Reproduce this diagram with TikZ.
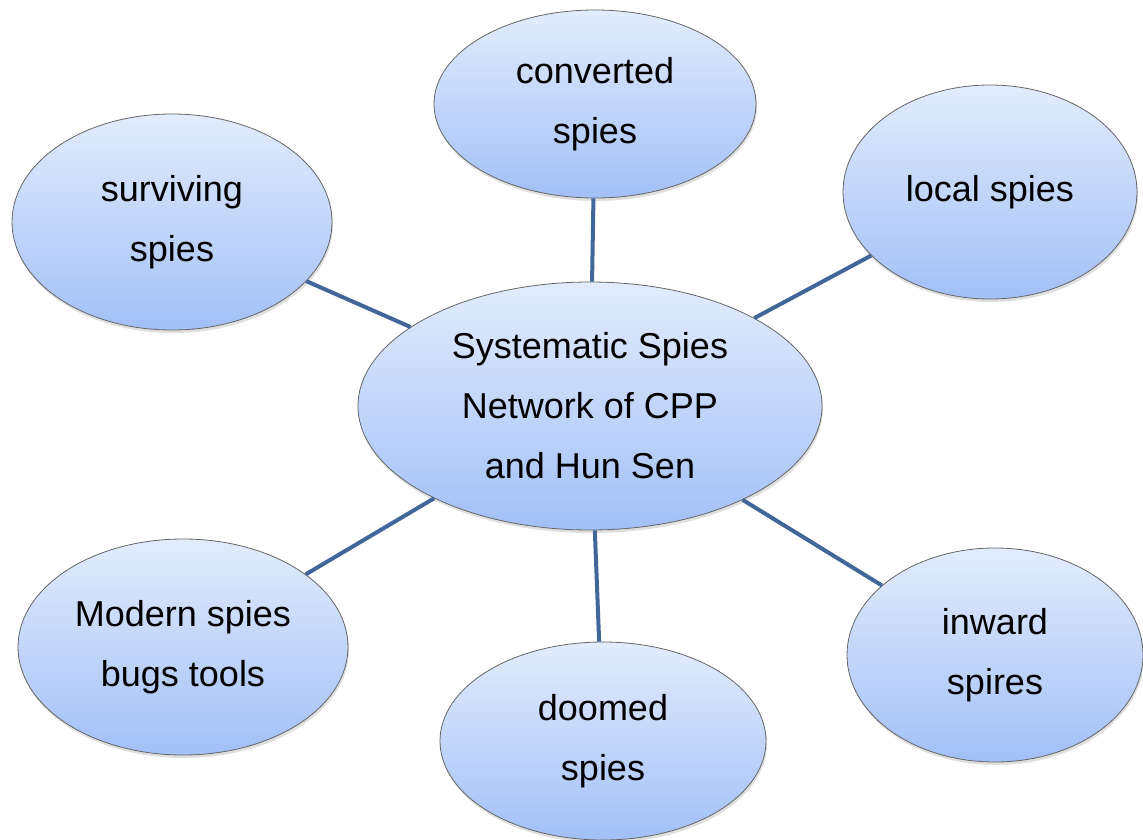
\documentclass[tikz,border=0pt]{standalone}
\usepackage{fontspec}
\setmainfont{Liberation Sans}
\usetikzlibrary{shapes.geometric,shadows}
\definecolor{spytop}{HTML}{E2ECFC}
\definecolor{spybot}{HTML}{A2C0F7}
\definecolor{linkblue}{HTML}{41679A}
\begin{document}
\begin{tikzpicture}[x=1pt,y=-1pt,
  spy/.style={ellipse,draw=black!60,line width=0.8pt,top color=spytop,bottom color=spybot,
    inner sep=0pt,align=center,font=\fontsize{36}{60}\selectfont,
    drop shadow={opacity=0.25,shadow xshift=1pt,shadow yshift=-3pt}},
  link/.style={draw=linkblue,line width=4pt}]
\useasboundingbox (0,0) rectangle (1143,839);

% centre
\node[spy,minimum width=464pt,minimum height=248pt] (network) at (590,406)
  {Systematic Spies\\Network of CPP\\and Hun Sen};

% outer spies
\node[spy,minimum width=322pt,minimum height=188pt] (converted) at (595,104) {converted\\spies};
\node[spy,minimum width=294pt,minimum height=214pt] (local) at (990,192) {local spies};
\node[spy,minimum width=320pt,minimum height=216pt] (surviving) at (172,222) {surviving\\spies};
\node[spy,minimum width=330pt,minimum height=216pt] (modern) at (183,647) {Modern spies\\bugs tools};
\node[spy,minimum width=326pt,minimum height=198pt] (doomed) at (603,741) {doomed\\spies};
\node[spy,minimum width=296pt,minimum height=214pt] (inward) at (995,655) {inward\\spires};

% links
\foreach \s in {converted,local,surviving,modern,doomed,inward}
  \draw[link] (network) -- (\s);
\end{tikzpicture}
\end{document}
